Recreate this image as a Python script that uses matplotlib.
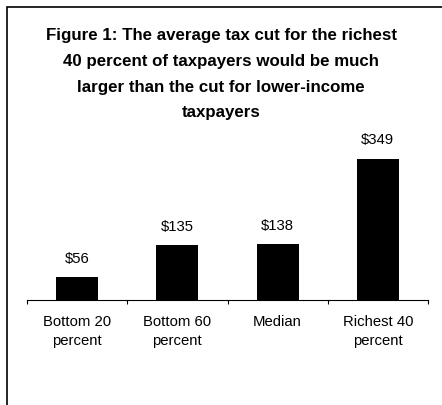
import matplotlib.pyplot as plt
from matplotlib.patches import Rectangle

# average tax cut by income group (dollars)
groups = ['Bottom 20\npercent', 'Bottom 60\npercent', 'Median', 'Richest 40\npercent']
tax_cut = [56, 135, 138, 349]
bar_labels = ['$56', '$135', '$138', '$349']

title = ('Figure 1: The average tax cut for the richest\n'
         '40 percent of taxpayers would be much\n'
         'larger than the cut for lower-income\n'
         'taxpayers')

plt.rcParams['font.family'] = ['Liberation Sans', 'DejaVu Sans']

W, H = 442, 405
fig = plt.figure(figsize=(W / 100, H / 100), dpi=100)

# frame around the chart, open on the right and bottom
fig.patches.append(Rectangle((7 / W, -0.1), 1.2, (H - 7) / H + 0.1,
                             transform=fig.transFigure, fill=False,
                             edgecolor='black', linewidth=1.2))

# plot area: baseline at y=300 px, from x=27 to x=428 px
ax = fig.add_axes([27 / W, (H - 300) / H, 401 / W, 162 / H])
x = range(len(groups))
ax.bar(x, tax_cut, width=0.42, color='black')
for i, v in enumerate(tax_cut):
    ax.text(i, v + 45, bar_labels[i], ha='center', va='center', fontsize=10.7)

ax.set_xlim(-0.5, len(groups) - 0.5)
ax.set_ylim(0, 400)
ax.set_yticks([])
for s in ['top', 'right', 'left']:
    ax.spines[s].set_visible(False)
ax.spines['bottom'].set_linewidth(0.8)
ax.set_xticks([i - 0.5 for i in range(len(groups) + 1)])
ax.set_xticklabels([])
ax.tick_params(axis='x', length=3, width=0.8, direction='out')
for i, g in enumerate(groups):
    ax.text(i, -38, g, ha='center', va='top', fontsize=10.7, linespacing=1.45)

fig.text(0.5, (H - 28) / H, title, ha='center', va='top', fontsize=12.2,
         fontweight='bold', linespacing=1.9)

fig.savefig('out.png', dpi=100)
